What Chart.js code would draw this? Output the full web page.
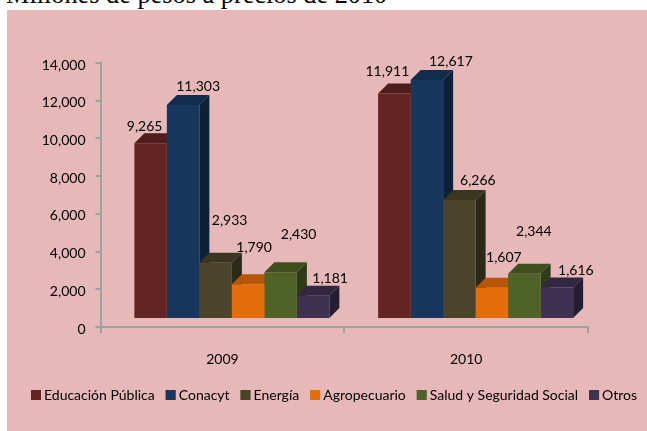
<!DOCTYPE html>
<html><head><meta charset="utf-8">
<style>
html,body{margin:0;padding:0;background:#fff;width:647px;height:431px;overflow:hidden}
#t{position:absolute;left:6px;top:-20px;font:26.3px/30px "Liberation Serif",serif;color:#000;white-space:nowrap}
#box{position:absolute;left:7px;top:10px;width:640px;height:421px;background:#E6B9B8}
#c{position:absolute;left:0;top:0}
</style>
<script src="https://cdn.jsdelivr.net/npm/chart.js@4/dist/chart.umd.js"></script>
</head><body>
<div id="box"></div>
<div id="t">Millones de pesos a precios de 2010</div>
<canvas id="c" width="647" height="431"></canvas>
<script>
const categories=['2009','2010'];
const seriesNames=['Educación Pública','Conacyt','Energía','Agropecuario','Salud y Seguridad Social','Otros'];
const educacion=[9265,11911];
const conacyt=[11303,12617];
const energia=[2933,6266];
const agropecuario=[1790,1607];
const salud=[2430,2344];
const otros=[1181,1616];
const seriesValues=[educacion,conacyt,energia,agropecuario,salud,otros];
const frontColors=['#632523','#17375E','#4A452A','#E46C0A','#4F6228','#3F3151'];
const topColors=['#4F1D1B','#122C4B','#3A3621','#B65608','#3F4E20','#322740'];
const sideColors=['#3A1615','#0E2038','#2C2919','#884106','#2F3B18','#251D30'];
const labelOffsets=[
 [[-6,-17],[-7,-22]],
 [[15,-18],[24,-19]],
 [[14,-42],[18.5,-19]],
 [[6,-37],[12,-30]],
 [[18,-38],[9.5,-42]],
 [[17,-17],[19,-17]]
];
const fontFam='Lato, "Open Sans", sans-serif';
const depth=10;
const shiftX=9.5;
const fmt=v=>v.toLocaleString('en-US');
const bar3d={
 id:'bar3d',
 beforeDatasetsDraw(chart){
  const c=chart.ctx;
  c.save();
  c.translate(shiftX,0);
  seriesValues.forEach((vals,i)=>{
   chart.getDatasetMeta(i).data.forEach(b=>{
    const l=b.x-b.width/2,r=b.x+b.width/2,t=b.y,bt=b.base;
    c.fillStyle=sideColors[i];
    c.beginPath();c.moveTo(r,t);c.lineTo(r+depth,t-depth);c.lineTo(r+depth,bt-depth);c.lineTo(r,bt);c.closePath();c.fill();
    c.fillStyle=topColors[i];
    c.beginPath();c.moveTo(l,t);c.lineTo(l+depth,t-depth);c.lineTo(r+depth,t-depth);c.lineTo(r,t);c.closePath();c.fill();
   });
  });
 },
 afterDatasetsDraw(chart){
  chart.ctx.restore();
 },
 afterDraw(chart){
  const c=chart.ctx;
  c.save();
  chart.legend.legendHitBoxes.forEach((h,i)=>{
   c.fillStyle=frontColors[i];
   c.fillRect(h.left,h.top+(h.height-10)/2,10,10);
  });
  c.font='14px '+fontFam;c.fillStyle='#000';c.textAlign='center';c.textBaseline='middle';
  seriesValues.forEach((vals,i)=>{
   chart.getDatasetMeta(i).data.forEach((b,j)=>{
    const o=labelOffsets[i][j];
    c.fillText(fmt(vals[j]),b.x+shiftX+o[0],b.y+o[1]);
   });
  });
  c.restore();
 },
 afterLayout(chart){
  const lg=chart.legend,dx=31-lg.left-(lg.width-lg.lineWidths[0]+11)/2;
  lg.left+=dx;lg.right+=dx;
 }
};
new Chart(document.getElementById('c'),{
 type:'bar',
 data:{labels:categories,datasets:seriesValues.map((v,i)=>({
  label:seriesNames[i],data:v,backgroundColor:frontColors[i],yAxisID:'y2',
  barPercentage:1,categoryPercentage:0.8,borderWidth:0
 }))},
 plugins:[bar3d],
 options:{
  responsive:false,animation:false,
  layout:{padding:{left:0,right:0,top:63,bottom:19}},
  plugins:{
   title:{display:false},tooltip:{enabled:false},
   legend:{display:true,position:'bottom',
    labels:{boxWidth:6,boxHeight:10,padding:11,color:'#000',font:{family:fontFam,size:14}}}
  },
  scales:{
   x:{grid:{display:true,drawOnChartArea:false,color:'#A0A0A0',tickLength:6,lineWidth:2},
      border:{display:true,color:'#A0A0A0',width:2},
      ticks:{color:'#000',font:{family:fontFam,size:14},padding:18,maxRotation:0},
      afterFit(s){s.height=50;}},
   y:{position:'left',min:0,max:14000,
      grid:{display:true,drawOnChartArea:false,color:'#A0A0A0',tickLength:5,lineWidth:2},
      border:{display:true,color:'#A0A0A0',width:2},
      ticks:{stepSize:2000,color:'#000',font:{family:fontFam,size:14},padding:10,labelOffset:2,callback:v=>fmt(v)},
      afterFit(s){s.width=100.5;}},
   y2:{display:false,min:-475,max:13525},
   rightGap:{position:'right',display:true,grid:{display:false},border:{display:false},ticks:{display:false},afterFit(s){s.width=59;}}
  }
 }
});
</script>
</body></html>
